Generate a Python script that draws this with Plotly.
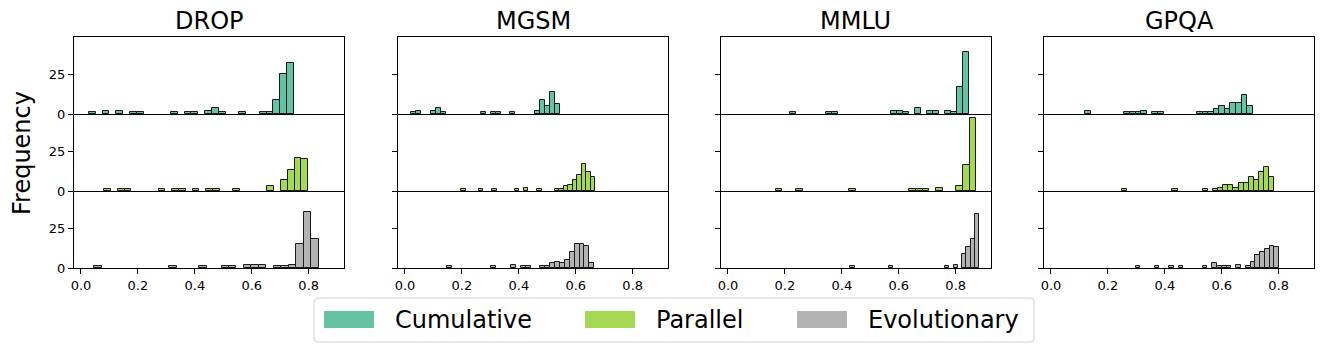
import plotly.graph_objects as go
from plotly.subplots import make_subplots

BENCHMARKS = ["DROP", "MGSM", "MMLU", "GPQA"]
METHODS = ["Cumulative", "Parallel", "Evolutionary"]
COLORS = ["#66c2a5", "#a6d854", "#b3b3b3"]

# (low, high) edges of the 30-bin histograms, one per method
DROP_BINS = [(0.028, 0.748), (0.082, 0.798), (0.046, 0.836)]
MGSM_BINS = [(0.022, 0.545), (0.197, 0.668), (0.149, 0.665)]
MMLU_BINS = [(0.217, 0.847), (0.168, 0.872), (0.430, 0.883)]
GPQA_BINS = [(0.121, 0.709), (0.248, 0.784), (0.297, 0.802)]

# bin counts
DROP_CUMULATIVE = [1, 0, 2, 0, 2, 0, 1, 1, 0, 0, 0, 0, 1, 0, 1, 1, 0, 2, 4, 1, 0, 0, 1, 0, 0, 1, 1, 9, 25, 32]
DROP_PARALLEL = [1, 0, 1, 1, 0, 0, 0, 0, 1, 0, 1, 1, 0, 1, 0, 1, 1, 0, 0, 1, 0, 0, 0, 0, 3, 0, 7, 13, 21, 20]
DROP_EVOLUTIONARY = [1, 0, 0, 0, 0, 0, 0, 0, 0, 0, 1, 0, 0, 0, 1, 0, 0, 1, 1, 0, 2, 2, 2, 0, 1, 1, 2, 15, 35, 18]

MGSM_CUMULATIVE = [1, 2, 0, 0, 2, 4, 1, 0, 0, 0, 0, 0, 0, 0, 1, 0, 1, 1, 0, 0, 1, 0, 0, 0, 0, 2, 9, 5, 14, 6]
MGSM_PARALLEL = [1, 0, 0, 0, 1, 0, 0, 1, 0, 0, 0, 0, 1, 0, 2, 0, 0, 1, 0, 0, 0, 1, 1, 3, 4, 7, 10, 17, 12, 9]
MGSM_EVOLUTIONARY = [1, 0, 0, 0, 0, 0, 0, 0, 0, 1, 0, 0, 0, 2, 0, 1, 1, 0, 0, 1, 1, 3, 4, 3, 5, 10, 15, 15, 14, 3]

MMLU_CUMULATIVE = [1, 0, 0, 0, 0, 0, 1, 1, 0, 0, 0, 0, 0, 0, 0, 0, 0, 2, 2, 1, 0, 4, 0, 2, 2, 0, 2, 1, 17, 39]
MMLU_PARALLEL = [1, 0, 0, 1, 0, 0, 0, 0, 0, 0, 0, 1, 0, 0, 0, 0, 0, 0, 0, 0, 1, 1, 1, 0, 2, 0, 0, 3, 16, 46]
MMLU_EVOLUTIONARY = [1, 0, 0, 0, 0, 0, 0, 0, 0, 1, 0, 0, 0, 0, 0, 0, 0, 0, 0, 0, 0, 0, 1, 0, 2, 0, 9, 13, 18, 34]

GPQA_CUMULATIVE = [2, 0, 0, 0, 0, 0, 0, 1, 1, 1, 2, 0, 1, 1, 0, 0, 0, 0, 0, 0, 1, 1, 1, 3, 5, 3, 7, 7, 12, 5]
GPQA_PARALLEL = [1, 0, 0, 0, 0, 0, 0, 0, 0, 0, 1, 0, 0, 0, 0, 0, 1, 0, 1, 2, 4, 4, 2, 5, 5, 9, 7, 12, 15, 9]
GPQA_EVOLUTIONARY = [1, 0, 0, 0, 1, 0, 0, 1, 0, 1, 0, 0, 0, 0, 1, 0, 3, 1, 1, 1, 0, 2, 0, 1, 4, 8, 10, 12, 14, 13]

X_TICKS = [0.0, 0.2, 0.4, 0.6, 0.8]
Y_TICKS = [0, 25]

BINS = {"DROP": DROP_BINS, "MGSM": MGSM_BINS, "MMLU": MMLU_BINS, "GPQA": GPQA_BINS}
COUNTS = {
    "DROP": [DROP_CUMULATIVE, DROP_PARALLEL, DROP_EVOLUTIONARY],
    "MGSM": [MGSM_CUMULATIVE, MGSM_PARALLEL, MGSM_EVOLUTIONARY],
    "MMLU": [MMLU_CUMULATIVE, MMLU_PARALLEL, MMLU_EVOLUTIONARY],
    "GPQA": [GPQA_CUMULATIVE, GPQA_PARALLEL, GPQA_EVOLUTIONARY],
}

W, H = 1324, 352
FONT = "DejaVu Sans"
COL_PX = [(74, 344), (398, 668), (721, 991), (1044, 1314)]
ROW_PX = [(37, 114), (114, 191), (191, 268)]


def px(x):
    return x / W


def py(y):
    return 1 - y / H


fig = make_subplots(rows=3, cols=4)

for c, bench in enumerate(BENCHMARKS):
    for r, method in enumerate(METHODS):
        lo, hi = BINS[bench][r]
        counts = COUNTS[bench][r]
        size = (hi - lo) / len(counts)
        # empty bins are skipped so they don't thicken the baseline
        xs = [lo + (i + 0.5) * size for i, n in enumerate(counts) if n > 0]
        ys = [n for n in counts if n > 0]
        fig.add_trace(
            go.Bar(x=xs, y=ys, width=size, name=method,
                   marker=dict(color=COLORS[r], line=dict(color="#1a1a1a", width=1)),
                   showlegend=False),
            row=r + 1, col=c + 1)

        bottom = r == 2
        fig.update_xaxes(
            domain=[px(COL_PX[c][0]), px(COL_PX[c][1])],
            range=[-0.0245, 0.924], automargin=False,
            tickvals=X_TICKS, ticktext=["%.1f" % v for v in X_TICKS],
            ticks="outside" if bottom else "", ticklen=5, tickcolor="black",
            showticklabels=bottom,
            # only the top row draws a top edge; lower rows reuse the row above's bottom line
            showline=True, mirror=(r == 0), linecolor="black", linewidth=1,
            showgrid=False, zeroline=False,
            row=r + 1, col=c + 1)
        fig.update_yaxes(
            domain=[py(ROW_PX[r][1]), py(ROW_PX[r][0])],
            range=[0, 48.3], automargin=False,
            tickvals=Y_TICKS, ticks="outside", ticklen=5, tickcolor="black",
            showticklabels=c == 0,
            showline=True, mirror=True, linecolor="black", linewidth=1,
            showgrid=False, zeroline=False,
            row=r + 1, col=c + 1)

# column titles
for c, bench in enumerate(BENCHMARKS):
    fig.add_annotation(text=bench, x=px(sum(COL_PX[c]) / 2), y=py(21),
                       xref="paper", yref="paper", showarrow=False,
                       xanchor="center", yanchor="middle",
                       font=dict(size=24, color="black"))

fig.add_annotation(text="Frequency", x=px(22), y=py(153), xref="paper", yref="paper",
                   showarrow=False, textangle=-90, xanchor="center", yanchor="middle",
                   font=dict(size=24, color="black"))

# legend drawn by hand so the patches match the wide matplotlib handles
bx0, bx1, by0, by1, rad = 314, 1034, 298, 342, 4
box = (f"M{px(bx0 + rad)},{py(by0)} L{px(bx1 - rad)},{py(by0)} "
       f"Q{px(bx1)},{py(by0)} {px(bx1)},{py(by0 + rad)} L{px(bx1)},{py(by1 - rad)} "
       f"Q{px(bx1)},{py(by1)} {px(bx1 - rad)},{py(by1)} L{px(bx0 + rad)},{py(by1)} "
       f"Q{px(bx0)},{py(by1)} {px(bx0)},{py(by1 - rad)} L{px(bx0)},{py(by0 + rad)} "
       f"Q{px(bx0)},{py(by0)} {px(bx0 + rad)},{py(by0)} Z")
fig.add_shape(type="path", path=box, xref="paper", yref="paper",
              line=dict(color="#d0d0d0", width=1), fillcolor="rgba(255,255,255,0.8)")
patch_x = [324, 585, 797]
for i, method in enumerate(METHODS):
    x0 = patch_x[i]
    fig.add_shape(type="rect", xref="paper", yref="paper",
                  x0=px(x0), x1=px(x0 + 50), y0=py(328), y1=py(311),
                  line=dict(width=0), fillcolor=COLORS[i])
    fig.add_annotation(text=method, x=px(x0 + 69), y=py(320), xref="paper", yref="paper",
                       showarrow=False, xanchor="left", yanchor="middle",
                       font=dict(size=24, color="black"))

fig.update_layout(
    width=W, height=H, autosize=False,
    margin=dict(l=0, r=0, t=0, b=0),
    paper_bgcolor="white", plot_bgcolor="white",
    font=dict(family=FONT, size=13, color="black"),
    bargap=0, showlegend=False,
)

# drop the default page margin so the figure sits at the window origin
fig.write_html("out.html", post_script="document.body.style.margin='0';",
               config={"displayModeBar": False})
